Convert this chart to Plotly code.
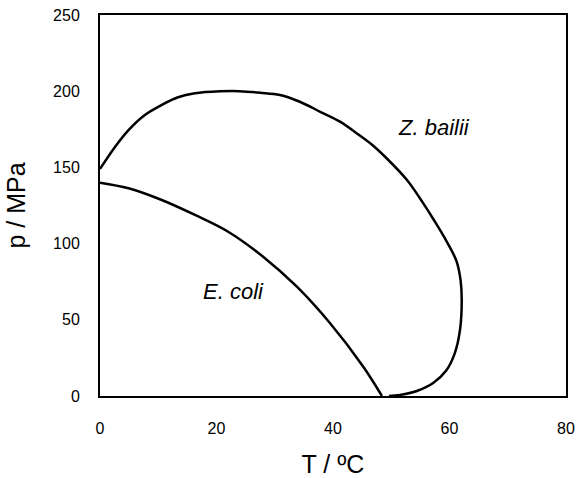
import plotly.graph_objects as go

# E. coli boundary (T in °C, p in MPa)
ecoli_T = [0, 4.9, 10.6, 16.3, 22.0, 28.0, 33.8, 39.5, 45.2, 48.4]
ecoli_p = [140, 136.3, 128.6, 118.8, 107.8, 91.4, 71.7, 47.7, 19.2, 0]

# Z. bailii boundary
zb_T = [0, 2.6, 4.9, 7.7, 10.6, 13.4, 16.3, 20.6, 24.0, 27.5, 30.9, 34.3, 37.8, 41.2,
        44.1, 46.5, 49.2, 52.7, 55.5, 57.4, 59.5, 61.2, 61.9, 62.1, 61.8, 60.9, 59.4,
        57.2, 54.4, 51.5, 49.6]
zb_p = [149, 163.6, 174.5, 184.4, 191, 196, 198.6, 199.9, 200.0, 199.0, 197.5, 193.1, 186.5, 180,
        172.3, 165.5, 156, 141.7, 126.4, 115, 101.5, 88.5, 76, 63, 43.3, 28, 16.5,
        8.5, 3.3, 0.7, 0]

x_ticks = [0, 20, 40, 60, 80]
y_ticks = [0, 50, 100, 150, 200, 250]

labels = ["Z. bailii", "E. coli"]
label_T = [57.3, 23]
label_p = [176, 68.4]

fig = go.Figure()
line_style = dict(color="black", width=2.5, shape="spline", smoothing=1.0)
fig.add_trace(go.Scatter(x=ecoli_T, y=ecoli_p, mode="lines", line=line_style, showlegend=False))
fig.add_trace(go.Scatter(x=zb_T, y=zb_p, mode="lines", line=line_style, showlegend=False))

for txt, tx, ty in zip(labels, label_T, label_p):
    fig.add_annotation(x=tx, y=ty, text="<i>%s</i>" % txt, showarrow=False,
                       font=dict(family="Liberation Sans, Arial", size=22, color="black"))

font = dict(family="Liberation Sans, Arial", size=16, color="black")
fig.update_layout(
    width=587, height=478,
    margin=dict(l=100, r=21, t=15, b=82),
    paper_bgcolor="white", plot_bgcolor="white",
    font=font,
    xaxis=dict(range=[0, 80], tickvals=x_ticks, showgrid=False, zeroline=False,
               showline=True, mirror=True, linecolor="black", linewidth=2,
               ticks="", ticklabelstandoff=17, automargin=False,
               title=dict(text="T / ºC", font=dict(size=25), standoff=22)),
    yaxis=dict(range=[0, 250], tickvals=y_ticks, showgrid=False, zeroline=False,
               showline=True, mirror=True, linecolor="black", linewidth=2,
               ticks="", ticklabelstandoff=15, automargin=False,
               title=dict(text="p / MPa", font=dict(size=25), standoff=20)),
)

fig.write_html("out.html")
